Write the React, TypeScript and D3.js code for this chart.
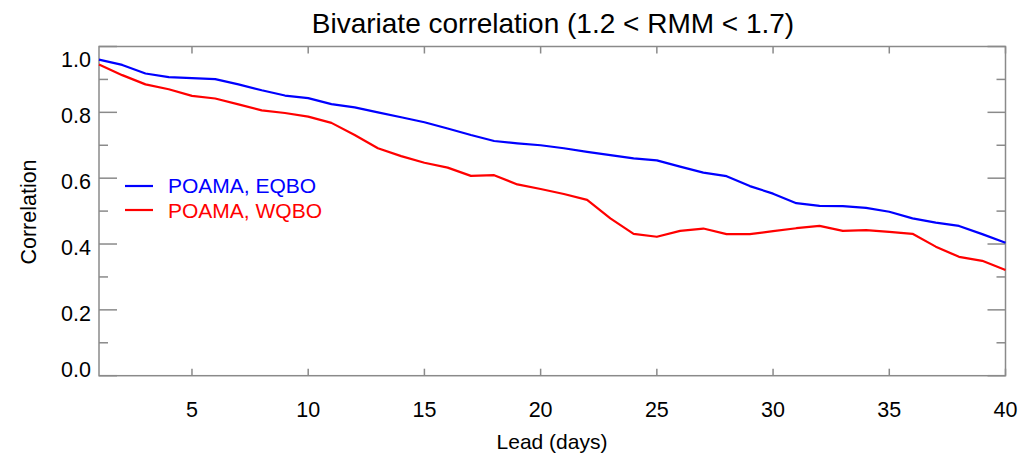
import React from "react";
import * as d3 from "d3";

const leads = d3.range(1, 41);
const eqbo = [0.96, 0.944, 0.918, 0.907, 0.904, 0.901, 0.885, 0.867, 0.851, 0.843,
  0.825, 0.815, 0.8, 0.785, 0.77, 0.751, 0.731, 0.713, 0.706, 0.7,
  0.691, 0.68, 0.67, 0.66, 0.654, 0.635, 0.617, 0.606, 0.576, 0.553,
  0.524, 0.516, 0.515, 0.51, 0.498, 0.478, 0.465, 0.455, 0.43, 0.404];
const wqbo = [0.945, 0.913, 0.885, 0.87, 0.85, 0.842, 0.824, 0.806, 0.798, 0.787,
  0.768, 0.731, 0.691, 0.667, 0.647, 0.632, 0.607, 0.609, 0.581, 0.567,
  0.552, 0.534, 0.478, 0.431, 0.422, 0.44, 0.447, 0.43, 0.43, 0.439,
  0.448, 0.455, 0.44, 0.442, 0.437, 0.431, 0.392, 0.361, 0.349, 0.321];
const xTicks = [5, 10, 15, 20, 25, 30, 35, 40];
const yMajor = [0, 0.2, 0.4, 0.6, 0.8, 1.0];
const yMinor = [0.1, 0.3, 0.5, 0.7, 0.9];
const seriesNames = ["POAMA, EQBO", "POAMA, WQBO"];
const seriesColors = ["#0000ff", "#ff0000"];

const W = 1029, H = 455;
const L = 99, R = 1005.5, T = 46.5, B = 375.7;
const axisColor = "#8a8a8a";
const font = "'Liberation Sans', Arial, Helvetica, sans-serif";

export default function App() {
  const x = d3.scaleLinear().domain([1, 40]).range([L, R]);
  const y = d3.scaleLinear().domain([0, 1]).range([B, T]);
  const line = d3.line<number>().x((_, i) => x(leads[i])).y((d) => y(d));
  const series = [eqbo, wqbo];

  return (
    <div style={{ position: "absolute", left: 0, top: 0 }}>
      <svg width={W} height={H} style={{ display: "block", background: "#fff" }}>
        <text x={553} y={33} textAnchor="middle" fontFamily={font} fontSize={28} fill="#000">
          Bivariate correlation (1.2 &lt; RMM &lt; 1.7)
        </text>
        {/* plot box */}
        <rect x={L} y={T} width={R - L} height={B - T} fill="none" stroke={axisColor} strokeWidth={1.5} />
        {/* x ticks */}
        {xTicks.map((t) => (
          <g key={"xt" + t}>
            <line x1={x(t)} x2={x(t)} y1={B} y2={B - 7} stroke={axisColor} strokeWidth={1.5} />
            <line x1={x(t)} x2={x(t)} y1={T} y2={T + 7} stroke={axisColor} strokeWidth={1.5} />
            <text x={x(t)} y={416.5} textAnchor="middle" fontFamily={font} fontSize={21.5} fill="#000">
              {t}
            </text>
          </g>
        ))}
        {/* y ticks */}
        {yMajor.map((t) => (
          <g key={"ym" + t}>
            <line x1={L} x2={L + 18} y1={y(t)} y2={y(t)} stroke={axisColor} strokeWidth={1.5} />
            <line x1={R} x2={R - 18} y1={y(t)} y2={y(t)} stroke={axisColor} strokeWidth={1.5} />
            <text
              x={91}
              y={Math.max(T + 20.5, Math.min(B + 1, y(t) + 11))}
              textAnchor="end"
              fontFamily={font}
              fontSize={21.5}
              fill="#000"
            >
              {t.toFixed(1)}
            </text>
          </g>
        ))}
        {yMinor.map((t) => (
          <g key={"yn" + t}>
            <line x1={L} x2={L + 9} y1={y(t)} y2={y(t)} stroke={axisColor} strokeWidth={1.5} />
            <line x1={R} x2={R - 9} y1={y(t)} y2={y(t)} stroke={axisColor} strokeWidth={1.5} />
          </g>
        ))}
        {/* series */}
        {series.map((s, i) => (
          <path key={"s" + i} d={line(s) || ""} fill="none" stroke={seriesColors[i]} strokeWidth={2.2} strokeLinejoin="round" />
        ))}
        {/* legend */}
        {seriesNames.map((n, i) => (
          <g key={"lg" + i}>
            <line x1={125} x2={153} y1={186 + i * 24} y2={186 + i * 24} stroke={seriesColors[i]} strokeWidth={2.2} />
            <text x={168} y={193.3 + i * 25} fontFamily={font} fontSize={21} fill={seriesColors[i]}>
              {n}
            </text>
          </g>
        ))}
        {/* axis titles */}
        <text x={552} y={449} textAnchor="middle" fontFamily={font} fontSize={21} fill="#000">
          Lead (days)
        </text>
        <text
          transform={`translate(36,212) rotate(-90)`}
          textAnchor="middle"
          fontFamily={font}
          fontSize={21.5}
          fill="#000"
        >
          Correlation
        </text>
      </svg>
    </div>
  );
}
